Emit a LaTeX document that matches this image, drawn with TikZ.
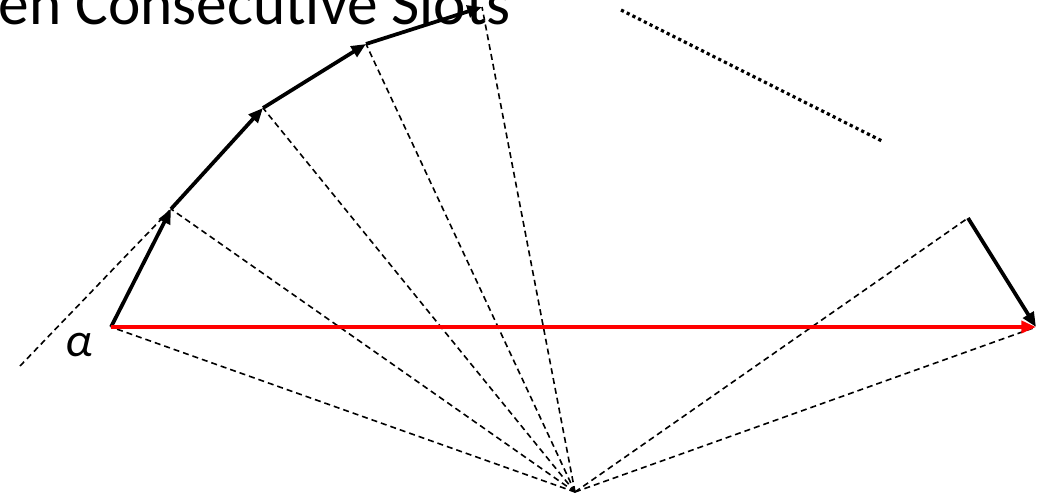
\documentclass[tikz,border=0pt]{standalone}
\usepackage{fontspec}
\setmainfont{Carlito}[Ligatures=NoCommon]
\usetikzlibrary{arrows.meta}
\tikzset{
  vec/.style={line width=2.8pt,-{Triangle[length=11pt,width=9pt]}},
  redvec/.style={vec,red,line width=3.6pt},
  guide/.style={line width=1.2pt,dash pattern=on 4.5pt off 3pt},
  dots/.style={line width=2.4pt,dash pattern=on 2.4pt off 2.4pt}
}
\begin{document}
\begin{tikzpicture}[x=0.75pt,y=-0.75pt]
\useasboundingbox (0,0) rectangle (1043,500);
\clip (0,0) rectangle (1043,500);
% centre and slot points
\coordinate (o) at (575,492);
\coordinate (p0) at (111,327);
\coordinate (p1) at (171,209);
\coordinate (p2) at (263,108);
\coordinate (p3) at (366,44);
\coordinate (p4) at (482,7);
\coordinate (q1) at (968,218);
\coordinate (q0) at (1036,327);
\coordinate (t) at (20,366);
\coordinate (d1) at (621,10);
\coordinate (d2) at (882,141);
\node[font=\fontsize{46}{50}\selectfont,anchor=base east,inner sep=0pt] (title) at (511,24) {en Consecutive Slots};
\node[font=\fontsize{36}{38}\selectfont\itshape] (alpha) at (79,345) {α};
% guides
\foreach \p in {p0,p1,p2,p3,p4,q1,q0}
  \draw[guide] (o) -- (\p);
\draw[guide] (t) -- (p1);
\draw[dots] (d1) -- (d2);
% phasors
\draw[vec] (p0) -- (p1);
\draw[vec] (p1) -- (p2);
\draw[vec] (p2) -- (p3);
\draw[vec] (p3) -- (p4);
\draw[vec] (q1) -- (q0);
\draw[redvec] (p0) -- (q0);
\end{tikzpicture}
\end{document}
